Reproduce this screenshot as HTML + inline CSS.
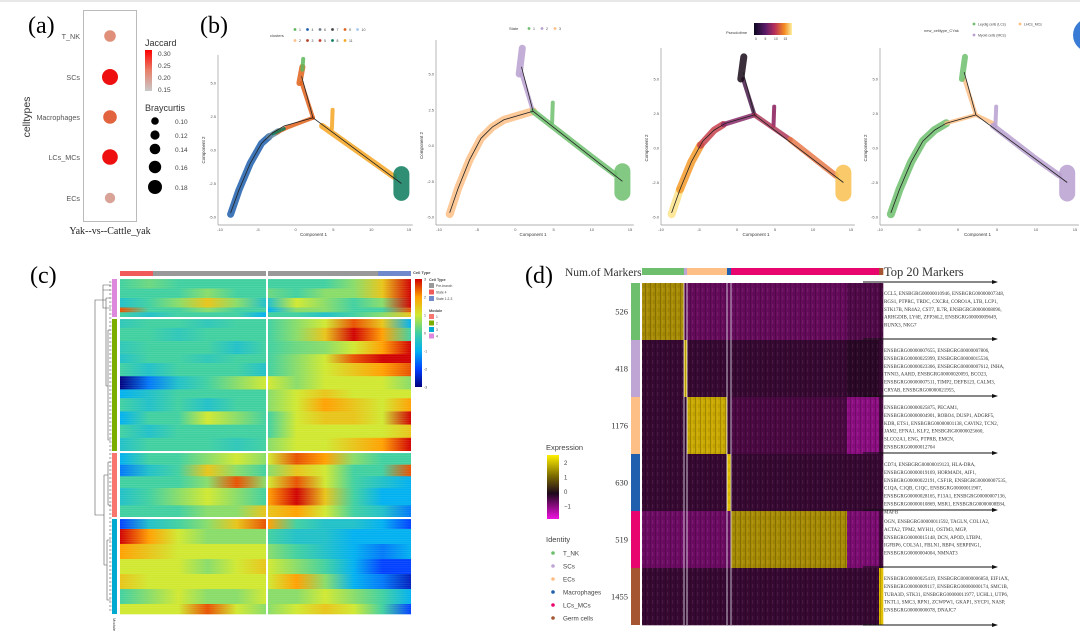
<!DOCTYPE html>
<html><head><meta charset="utf-8"><style>
html,body{margin:0;padding:0;background:#fff;}
svg{display:block;font-family:"Liberation Sans",sans-serif;}
.serif{font-family:"Liberation Serif",serif;}
</style></head><body>
<svg id="fig" width="1080" height="636" viewBox="0 0 1080 636">
<rect x="0" y="0" width="1080" height="636" fill="#fff"/>
<rect x="0" y="0" width="1080" height="2" fill="#e8e8e8"/>
<circle cx="1090" cy="35" r="17" fill="#3a7bd5"/>
<!-- Panel a -->
<g>
<text x="28" y="33" class="serif" font-size="24">(a)</text>
<rect x="83.5" y="10.5" width="53" height="211" fill="#fff" stroke="#bbb"/>
<g font-size="7.2" fill="#555" text-anchor="end">
<text x="80" y="39">T_NK</text>
<text x="80" y="80">SCs</text>
<text x="80" y="120">Macrophages</text>
<text x="80" y="160">LCs_MCs</text>
<text x="80" y="201">ECs</text>
</g>
<text transform="translate(30,117) rotate(-90)" font-size="10.5" text-anchor="middle" fill="#333">celltypes</text>
<circle cx="110" cy="36" r="5.8" fill="#e0907a"/>
<circle cx="110" cy="77" r="8" fill="#ee1010"/>
<circle cx="110" cy="117" r="6.8" fill="#e2643e"/>
<circle cx="110" cy="157" r="7.8" fill="#ee1010"/>
<circle cx="110" cy="198" r="5.2" fill="#d9a397"/>
<text x="110" y="234" class="serif" font-size="10" text-anchor="middle" fill="#222">Yak--vs--Cattle_yak</text>
<text x="145" y="46" font-size="9" fill="#333">Jaccard</text>
<defs><linearGradient id="jacg" x1="0" y1="0" x2="0" y2="1"><stop offset="0" stop-color="#f00"/><stop offset="0.5" stop-color="#e8806a"/><stop offset="1" stop-color="#c8c8c8"/></linearGradient></defs>
<rect x="145" y="50" width="7" height="41" fill="url(#jacg)"/>
<g font-size="6.5" fill="#444">
<text x="158" y="56">0.30</text>
<text x="158" y="68">0.25</text>
<text x="158" y="80">0.20</text>
<text x="158" y="92">0.15</text>
</g>
<text x="145" y="111" font-size="9" fill="#333">Braycurtis</text>
<circle cx="155" cy="121" r="3.8" fill="#000"/>
<circle cx="155" cy="135" r="4.6" fill="#000"/>
<circle cx="155" cy="149" r="5.3" fill="#000"/>
<circle cx="155" cy="167" r="6.2" fill="#000"/>
<circle cx="155" cy="187" r="7" fill="#000"/>
<g font-size="6.5" fill="#444">
<text x="175" y="124">0.10</text>
<text x="175" y="138">0.12</text>
<text x="175" y="152">0.14</text>
<text x="175" y="170">0.16</text>
<text x="175" y="190">0.18</text>
</g>
</g>
<text x="200" y="33" class="serif" font-size="24">(b)</text>
<g id="panelB"></g>
<text x="30" y="283" class="serif" font-size="24">(c)</text>
<g id="panelC"></g>
<text x="525" y="283" class="serif" font-size="24">(d)</text>
<text x="565" y="276" class="serif" font-size="11.5" fill="#333">Num.of Markers</text>
<text x="884" y="276" class="serif" font-size="12.5" fill="#333">Top 20 Markers</text>
<g id="panelD"></g>
</svg>
<script>
// ---------- data: panel b ----------
const trajLeft = [[-8.6,-4.7],[-7.5,-3],[-6,-1],[-4.5,0.5],[-3,1.3],[-1.5,1.8],[2.3,2.4]];
const trajTop = [[2.3,2.4],[0.8,5.5]];
const trajRight = [[2.3,2.4],[14,-2.5]];
const xTicks = [-10,-5,0,5,10,15];
const yTicks = [5,2.5,0,-2.5,-5];
const p1Segments = [
 {c:'#1f5fad',w:7,pts:[[-8.6,-4.8],[-7.5,-3],[-6,-1],[-4.5,0.5],[-3.5,1.0]]},
 {c:'#6a8aa0',w:6,pts:[[-3.5,1.0],[-2.3,1.4]]},
 {c:'#e0621a',w:4,pts:[[-2.5,1.3],[-1,1.7],[2.3,2.4]]},
 {c:'#0a7a5a',w:3,pts:[[-3,1.2],[-1.5,1.6]]},
 {c:'#e0621a',w:4,pts:[[2.3,2.4],[0.8,5.0]]},
 {c:'#e0621a',w:6,pts:[[0.5,5.0],[0.9,6.2]]},
 {c:'#5cb85c',w:4,pts:[[0.9,6.0],[1.0,6.8]]},
 {c:'#f5a623',w:4,pts:[[4.8,1.6],[4.9,3.0]]},
 {c:'#f5a623',w:6,pts:[[3.5,1.8],[10,-0.8],[13,-2.0]]},
 {c:'#0a7a5a',w:16,pts:[[14,-1.8],[14,-3.2]]}
];
const p2Segments = [
 {c:'#fdbf86',w:8,pts:[[-8.6,-4.8],[-7.5,-3],[-6,-1],[-4.5,0.5],[-3,1.3],[-1.5,1.8],[2.3,2.4]]},
 {c:'#b9a0d0',w:4,pts:[[2.3,2.4],[0.8,5.0]]},
 {c:'#b9a0d0',w:7,pts:[[0.5,5.0],[0.9,6.8]]},
 {c:'#6dbf6d',w:6,pts:[[2.3,2.4],[10,-0.8],[13,-2.0]]},
 {c:'#6dbf6d',w:4,pts:[[4.8,1.6],[4.9,3.0]]},
 {c:'#6dbf6d',w:16,pts:[[14,-1.8],[14,-3.3]]}
];
const p3Segments = [
 {c:'#fde38a',w:8,pts:[[-8.6,-4.8],[-7.5,-3]]},
 {c:'#f59a2a',w:8,pts:[[-7.5,-3],[-6,-1],[-4.8,0.2]]},
 {c:'#c8404a',w:7,pts:[[-4.8,0.2],[-3,1.3],[-1.8,1.7]]},
 {c:'#8a2a6a',w:5,pts:[[-1.8,1.7],[2.3,2.4]]},
 {c:'#4a1a4a',w:4,pts:[[2.3,2.4],[0.8,5.0]]},
 {c:'#1a0a1a',w:7,pts:[[0.5,5.0],[0.9,6.6]]},
 {c:'#8a1a5a',w:4,pts:[[4.8,1.6],[4.9,3.0]]},
 {c:'#b03a5a',w:5,pts:[[2.3,2.4],[7,0.6]]},
 {c:'#e87a4a',w:6,pts:[[7,0.6],[13,-2.0]]},
 {c:'#f8c050',w:16,pts:[[14,-1.8],[14,-3.3]]}
];
const p4Segments = [
 {c:'#6dbf6d',w:8,pts:[[-8.6,-4.8],[-7.5,-3],[-6,-1],[-4.5,0.5],[-3,1.3],[-1.5,1.8]]},
 {c:'#fdbf86',w:4,pts:[[-1.5,1.8],[2.3,2.4],[4.5,1.8]]},
 {c:'#fdbf86',w:4,pts:[[2.3,2.4],[0.8,5.0]]},
 {c:'#6dbf6d',w:6,pts:[[0.5,5.0],[0.9,6.6]]},
 {c:'#b9a0d0',w:4,pts:[[4.8,1.6],[4.9,3.0]]},
 {c:'#b9a0d0',w:6,pts:[[4.5,1.6],[10,-0.8],[13,-2.0]]},
 {c:'#b9a0d0',w:16,pts:[[14,-1.8],[14,-3.3]]}
];
// ---------- data: panel c ----------
const cModules = ['4','2','1','3'];
const cModuleColors = ['#dd88dd','#7cae00','#f8766d','#00a9d0'];
const cModuleY = [[279,317],[319,451],[453,517],[519,614]];
const cBands4 = [
 [2,[0,0.3,0,0,0,0],[0,0,0,0.5,1.5,3]],
 [2,[0,0,0,0.5,0,0],[0.3,0,0.5,0.5,1.5,3]],
 [2,[-0.5,0,0.5,1.5,0.5,-0.5],[-0.5,1,0.5,0,0.5,3]],
 [1,[2.5,0,0,0.5,0,0],[-1,0.5,0.5,0,0,2.5]],
 [1,[0,-0.5,0,0,0,-1],[0,0,-0.5,0,0.5,1.5]]];
const cBands2 = [
 [2,[-0.3,0,0,-0.3,0,0],[0,0.5,1,2.5,1.5,-1]],
 [3,[0,0,-0.3,0,0,0],[0,0.5,1.5,3,2,0]],
 [3,[-0.3,0,0,0,-0.5,0],[0,0.3,0.5,1,2,3]],
 [2,[-0.5,0,0,-0.3,0,0],[0,0.5,1,2.5,3,3]],
 [3,[0,-0.5,0,0,0,-0.5],[0,0.5,1,1.5,2,2.5]],
 [3,[-3,-1.5,-0.5,0,0.5,1],[1,0.5,1,1,1,0.5]],
 [2,[-1,-0.5,0,0,0,0],[0.5,1,1.5,1,1,1]],
 [3,[0,-0.5,0,-0.5,0,0],[0.5,1,2,1.5,1,2]],
 [3,[-1,0,0,1,0.5,0],[0,1,1.5,1.5,1,3]],
 [3,[0,-0.5,0,0,0,0],[0,1,1,1,1,1.5]],
 [3,[-0.5,0,0,0,-0.3,0],[0.5,1,1,1.5,2,3]]];
const cBands1 = [
 [2,[-1,0,0,0.5,1,0.5],[1,2.5,2,0.5,0,0]],
 [2,[-1.5,-0.5,0,1.5,0.5,0],[0.5,1.5,1,0,0,2.5]],
 [2,[0,0,0,0.5,2.5,0.5],[1,2.5,1,0,-0.5,-1]],
 [3,[-0.5,0,0.5,1,0.5,0],[2,3,1.5,0,-1,-1]],
 [2,[0,0,0,0.5,0.5,1.5],[1.5,2,1,0,-0.5,-1.5]]];
const cBands3 = [
 [2,[-2,-0.5,0,0.5,1.5,2.5],[2,0,-0.5,-0.5,-1,-2]],
 [3,[3,2,1,0.5,0.5,0.5],[0,-0.5,-0.5,-1,-1,-1]],
 [3,[2,1.5,1,1,1,1],[0.5,0,-0.5,-1,-1.5,-1]],
 [3,[1,1,1,0.5,1,1.5],[1,0.5,0,-1,-2,-2]],
 [3,[1.5,1,1,1,1,1],[1,2,0.5,-1,-1.5,-2.5]],
 [3,[0,0.5,1,0.5,0.5,1],[0.5,0.5,1,0.5,0,-1]],
 [2,[1,1,1,2.5,1,0.5],[0.5,1,1.5,1,0,-2]]];
const cTicks = [3,2,1,0,-1,-2,-3];
// ---------- data: panel d ----------
const dIdentities = ['T_NK','SCs','ECs','Macrophages','LCs_MCs','Germ cells'];
const dColors = ['#6dbf6d','#bfa5d4','#fdbf86','#1f5fad','#e8066e','#a65533'];
const dMarkerCounts = [526,418,1176,630,519,1455];
const dColCells = [42,3,40,4,116,32,4];
const dColIdentity = [0,1,2,3,4,4,5];
const dExpr = [
 [1.5,-0.5,-0.55,-0.55,-0.55,-0.4,-0.3],
 [-0.2,2.0,-0.2,-0.2,-0.2,-0.1,-0.2],
 [-0.2,-0.2,1.8,-0.2,-0.35,-0.8,-0.3],
 [-0.2,-0.2,-0.2,2.0,-0.2,-0.2,-0.2],
 [-0.6,-0.55,-0.6,-0.55,1.5,-0.7,-0.3],
 [-0.2,-0.2,-0.2,-0.2,-0.2,-0.2,2.0]];
const dLegendTicks = [2,1,0,-1];
const dMarkerText = [
 ["CCL5, ENSBGRG00000010946, ENSBGRG00000007348,","RGS1, PTPRC, TRDC, CXCR4, CORO1A, LTB, LCP1,","STK17B, NR4A2, CST7, IL7R, ENSBGRG00000008096,","ARHGDIB, LY6E, ZFP36L2, ENSBGRG00000009649,","RUNX3, NKG7"],
 ["ENSBGRG00000007655, ENSBGRG00000007806,","ENSBGRG00000025999, ENSBGRG00000015536,","ENSBGRG00000023306, ENSBGRG00000007612, INHA,","TNNI3, AARD, ENSBGRG00000020093, BCO23,","ENSBGRG00000007511, TIMP2, DEFB123, CALM3,","CRYAB, ENSBGRG00000021955,"],
 ["ENSBGRG00000025875, PECAM1,","ENSBGRG00000004901, ROBO4, DUSP1, ADGRF5,","KDR, ETS1, ENSBGRG00000001138, CAVIN2, TCN2,","JAM2, EFNA1, KLF2, ENSBGRG00000025660,","SLCO2A1, ENG, PTPRB, EMCN,","ENSBGRG00000012704"],
 ["CD74, ENSBGRG00000019123, HLA-DRA,","ENSBGRG00000019169, HORMAD1, AIF1,","ENSBGRG00000022191, CSF1R, ENSBGRG00000007535,","C1QA, C1QB, C1QC, ENSBGRG00000011907,","ENSBGRG00000028165, F13A1, ENSBGRG00000007136,","ENSBGRG00000010869, MSR1, ENSBGRG00000008E84,","MAFB"],
 ["OGN, ENSBGRG00000011592, TAGLN, COL1A2,","ACTA2, TPM2, MYH11, OSTM3, MGP,","ENSBGRG00000015148, DCN, APOD, LTBP4,","IGFBP6, COL3A1, FBLN1, RBP4, SERPING1,","ENSBGRG00000004004, NMNAT3"],
 ["ENSBGRG00000025419, ENSBGRG00000006850, EIF1AX,","ENSBGRG00000009117, ENSBGRG00000000174, SMC1B,","TUBA3D, STK31, ENSBGRG00000011977, UCHL1, UTP6,","TKTL1, SMC3, RPN1, ZCWPW1, GKAP1, SYCP1, NASP,","ENSBGRG00000000078, DNAJC7"]];

const NS='http://www.w3.org/2000/svg';
function E(tag,attrs,parent){const e=document.createElementNS(NS,tag);for(const k in attrs)e.setAttribute(k,attrs[k]);parent.appendChild(e);return e;}
const svg=document.getElementById('fig');
const defs=E('defs',{},svg);

// ================= Panel B =================
const B=document.getElementById('panelB');
const plots=[
 {x0:220,x1:409,y5:83,ym5:217,ax:218,top:55,segs:p1Segments,name:'clusters'},
 {x0:439,x1:630,y5:74,ym5:217,ax:436,top:40,segs:p2Segments,name:'state'},
 {x0:661,x1:851,y5:79,ym5:217,ax:661,top:48,segs:p3Segments,name:'pseudotime'},
 {x0:880,x1:1075,y5:79,ym5:217,ax:880,top:48,segs:p4Segments,name:'celltype'}];
function px(p,x){return p.x0+(x+10)*(p.x1-p.x0)/25;}
function py(p,y){return p.y5+(5-y)*(p.ym5-p.y5)/10;}
function ptsStr(p,arr){return arr.map(q=>px(p,q[0]).toFixed(1)+','+py(p,q[1]).toFixed(1)).join(' ');}
plots.forEach((p,i)=>{
 const g=E('g',{},B);
 
 
 const ya=E('line',{x1:p.ax,y1:p.top,x2:p.ax,y2:225,stroke:'#999','stroke-width':0.7},g);
 
 
 const xa=E('line',{x1:p.ax,y1:225,x2:px(p,15.5),y2:225,stroke:'#999','stroke-width':0.7},g);
 
 
 xTicks.forEach(t=>{
  const tx=E('text',{x:px(p,t),y:231,'font-size':4,'text-anchor':'middle',fill:'#555'},g);
  tx.textContent=t;
  
  
 });
 yTicks.forEach(t=>{
  const ty=E('text',{x:p.ax-2,y:py(p,t)+1.5,'font-size':4,'text-anchor':'end',fill:'#555'},g);
  ty.textContent=t.toFixed(1);
  
  
 });
 const xl=E('text',{x:(p.ax+px(p,15))/2,y:236,'font-size':4.5,'text-anchor':'middle',fill:'#333'},g);
 xl.textContent='Component 1';
 
 
 const yl=E('text',{transform:`translate(${p.ax-13},${py(p,0)}) rotate(-90)`,'font-size':4.5,'text-anchor':'middle',fill:'#333'},g);
 yl.textContent='Component 2';
 
 
 p.segs.forEach((s,j)=>{
  const l=E('polyline',{points:ptsStr(p,s.pts),fill:'none',stroke:s.c,'stroke-width':s.w,'stroke-linecap':'round','stroke-linejoin':'round',opacity:0.85},g);
  
  
 });
 [trajLeft,trajTop,trajRight].forEach((tr,k)=>{
  const l=E('polyline',{points:ptsStr(p,tr),fill:'none',stroke:'#222','stroke-width':0.8},g);
  
  
 });
});
function txt(x,y,s,size,parent,name,extra){const t=E('text',Object.assign({x:x,y:y,'font-size':size,fill:'#444'},extra||{}),parent);t.textContent=s;return t;}
const lg1=E('g',{},B);


const c1Labels=[['1','#5cb85c'],['4','#1f5fad'],['6','#6a7a8a'],['7','#444'],['9','#e0621a'],['10','#a6c8f0']];
const c2Labels=[['2','#fdbf86'],['3','#b0402a'],['5','#c0392b'],['8','#0a7a5a'],['11','#f5a623']];
let t0=txt(270,37,'clusters',4,lg1);


c1Labels.forEach((c,i)=>{const cc=E('circle',{cx:295+i*12.5,cy:29.5,r:1.4,fill:c[1]},lg1);
 
 
 const t=txt(299+i*12.5,31,c[0],3.5,lg1);
 
 });
c2Labels.forEach((c,i)=>{const cc=E('circle',{cx:295+i*12.5,cy:40.5,r:1.4,fill:c[1]},lg1);
 
 
 const t=txt(299+i*12.5,42,c[0],3.5,lg1);
 
 });
const lg2=E('g',{},B);


t0=txt(509,30,'State',4,lg2);


[['1','#6dbf6d'],['2','#b9a0d0'],['3','#fdbf86']].forEach((c,i)=>{const cc=E('circle',{cx:529+i*13,cy:28.5,r:1.4,fill:c[1]},lg2);
 
 
 const t=txt(533+i*13,30,c[0],3.5,lg2);
 
 });
const lg3=E('g',{},B);


const pg=E('linearGradient',{id:'ptg',x1:0,y1:0,x2:1,y2:0},defs);
[['0','#0d0820'],['0.3','#5a1a6a'],['0.55','#b8305a'],['0.8','#f48a20'],['1','#fdf0a0']].forEach(s=>E('stop',{offset:s[0],'stop-color':s[1]},pg));
t0=txt(726,34,'Pseudotime',4,lg3);


const pr=E('rect',{x:754,y:23,width:38,height:12,fill:'url(#ptg)'},lg3);


['0','5','10','15'].forEach((s,i)=>{const t=txt(755+i*9.5,40,s,3.3,lg3);
 
 });
const lg4=E('g',{},B);


t0=txt(924,32,'new_celltype_CYak',4,lg4);


[[974,25,'Leydig cells (LCs)','#6dbf6d'],[1020,25,'LHCs_MCs','#fdbf86'],[974,36,'Myoid cells (MCs)','#b9a0d0']].forEach(c=>{
 const cc=E('circle',{cx:c[0],cy:c[1]-1,r:1.4,fill:c[3]},lg4);
 
 
 const t=txt(c[0]+4,c[1]+0.5,c[2],3.5,lg4);
 
 });

// ================= Panel C =================
const C=document.getElementById('panelC');
const jetStops=[[-3,[0,0,127]],[-2,[0,64,255]],[-1,[0,176,240]],[0,[64,208,160]],[1,[208,232,48]],[2,[255,160,0]],[3,[208,0,0]]];
function jet(v){v=Math.max(-3,Math.min(3,v));for(let i=0;i<jetStops.length-1;i++){const a=jetStops[i],b=jetStops[i+1];if(v<=b[0]){const t=(v-a[0])/(b[0]-a[0]);const c=a[1].map((x,k)=>Math.round(x+(b[1][k]-x)*t));return `rgb(${c[0]},${c[1]},${c[2]})`;}}return 'rgb(208,0,0)';}
const halves=[[120,266],[268,411]];
const allBands=[cBands4,cBands2,cBands1,cBands3];
let gid=0;
allBands.forEach((bands,mi)=>{
 const [y0,y1]=cModuleY[mi];
 const total=bands.reduce((s,b)=>s+b[0],0);
 let y=y0;
 bands.forEach(b=>{
  const h=(y1-y0)*b[0]/total;
  [b[1],b[2]].forEach((vals,hi)=>{
   const id='cg'+(gid++);
   const lgr=E('linearGradient',{id:id,x1:0,y1:0,x2:1,y2:0},defs);
   vals.forEach((v,k)=>E('stop',{offset:k/(vals.length-1),'stop-color':jet(v)},lgr));
   const r=E('rect',{x:halves[hi][0],y:y.toFixed(2),width:halves[hi][1]-halves[hi][0],height:(h+0.3).toFixed(2),fill:`url(#${id})`},C);
   
   
  });
  y+=h;
 });
 const mb=E('rect',{x:112,y:y0,width:5,height:y1-y0,fill:cModuleColors[mi]},C);
 
 
});
// horizontal fine-row texture
const cpat=E('pattern',{id:'rowlines',width:4,height:2.2,patternUnits:'userSpaceOnUse'},defs);
E('rect',{x:0,y:0,width:4,height:0.6,fill:'#fff',opacity:0.12},cpat);
const ctex=E('rect',{x:120,y:279,width:291,height:335,fill:'url(#rowlines)'},C);


[[120,153,'#f05a5a'],[153,266,'#999'],[268,378,'#999'],[378,411,'#7088cc']].forEach((s,i)=>{
 const r=E('rect',{x:s[0],y:271,width:s[1]-s[0],height:5,fill:s[2]},C);
 
 
});
const dg=E('g',{stroke:'#555','stroke-width':0.6,fill:'none'},C);


E('path',{d:'M106,300 H95 V515 H104 M106,300 V298 M106,300 V386 M106,298 H111 M106,386 H108 M108,330 V440 H111 M108,330 H111 M104,475 V565 M104,475 H108 M104,565 H107 M108,462 V505 H111 M108,462 H111 M107,540 V600 H111 M107,540 H111 M103,290 H111 M103,285 V308 H111 M103,285 H111'},dg);
for(let yy=282;yy<612;yy+=4){E('line',{x1:109,y1:yy,x2:111.5,y2:yy},dg);}
const ml=E('text',{transform:'translate(113,618) rotate(90)','font-size':4,fill:'#444'},C);
ml.textContent='Module';


const cg=E('linearGradient',{id:'cbar',x1:0,y1:0,x2:0,y2:1},defs);
cTicks.forEach((v,k)=>E('stop',{offset:k/(cTicks.length-1),'stop-color':jet(v)},cg));
const cbr=E('rect',{x:415,y:279,width:7,height:108,fill:'url(#cbar)'},C);


cTicks.forEach((v,k)=>{const t=txt(424,279+k*18+1.5,String(v),3.5,C);
 
 });
let ct=txt(413,274,'Cell Type',4,C,null,{'font-weight':'bold'});


ct=txt(429,281,'Cell Type',3.8,C,null,{'font-weight':'bold'});


[['Pre-branch','#999'],['State 4','#f05a5a'],['State 1-2-3','#7088cc']].forEach((c,i)=>{
 const r=E('rect',{x:429,y:283+i*6.5,width:5,height:5,fill:c[1]},C);
 
 
 const t=txt(436,287+i*6.5,c[0],3.3,C);
 
 });
ct=txt(429,312,'Module',3.8,C,null,{'font-weight':'bold'});


['#f8766d','#7cae00','#00a9d0','#dd88dd'].forEach((c,i)=>{
 const r=E('rect',{x:429,y:314+i*6.5,width:5,height:5,fill:c},C);
 
 
 const t=txt(436,318+i*6.5,String(i+1),3.3,C);
 
 });
[318,452,518].forEach(y=>{const l=E('rect',{x:119,y:y-1,width:293,height:2,fill:'#fff'},C);
 
 });
const vs=E('rect',{x:266,y:270,width:2,height:345,fill:'#fff'},C);



// ================= Panel D =================
const D=document.getElementById('panelD');
const hx0=642,hx1=883,hy0=283,hy1=625;
const totalCells=dColCells.reduce((a,b)=>a+b,0);
const colX=[];let acc=0;dColCells.forEach(c=>{colX.push(hx0+(hx1-hx0)*acc/totalCells);acc+=c;});colX.push(hx1);
const rowH=(hy1-hy0)/dIdentities.length;
function exprColor(v){const st=[[-1.5,[230,0,230]],[-1,[170,16,160]],[-0.5,[95,10,85]],[0,[30,8,28]],[1,[110,90,10]],[2,[225,190,0]],[2.5,[255,235,30]]];
 v=Math.max(-1.5,Math.min(2.5,v));for(let i=0;i<st.length-1;i++){const a=st[i],b=st[i+1];if(v<=b[0]){const t=(v-a[0])/(b[0]-a[0]);const c=a[1].map((x,k)=>Math.round(x+(b[1][k]-x)*t));return `rgb(${c[0]},${c[1]},${c[2]})`;}}return 'rgb(255,235,30)';}
const pat=E('pattern',{id:'stripes',width:5,height:8,patternUnits:'userSpaceOnUse'},defs);
E('rect',{x:0,y:0,width:1,height:8,fill:'#000',opacity:0.2},pat);
E('rect',{x:2,y:0,width:1,height:4,fill:'#fff',opacity:0.07},pat);
E('rect',{x:3.5,y:4,width:1,height:4,fill:'#000',opacity:0.12},pat);
dExpr.forEach((row,ri)=>{
 row.forEach((v,ci)=>{
  const r=E('rect',{x:colX[ci].toFixed(2),y:(hy0+ri*rowH).toFixed(2),width:(colX[ci+1]-colX[ci]+0.3).toFixed(2),height:(rowH+0.3).toFixed(2),fill:exprColor(v)},D);
  
  
 });
 const lb=E('rect',{x:631,y:hy0+ri*rowH,width:9,height:rowH,fill:dColors[ri]},D);
 
 
 const t=E('text',{x:628,y:hy0+ri*rowH+rowH/2+3,'font-size':8.5,'text-anchor':'end',fill:'#333',class:'serif'},D);
 t.textContent=dMarkerCounts[ri];
 
 
 const ay=hy0+ri*rowH-1;
 const ar=E('line',{x1:863,y1:ay,x2:994,y2:ay,stroke:'#111','stroke-width':1},D);
 
 
 const ah=E('polygon',{points:`${998},${ay} ${992},${ay-2} ${992},${ay+2}`,fill:'#111'},D);
 
 
 dMarkerText[ri].forEach((line,li)=>{
  const tl=E('text',{x:884,y:hy0+ri*rowH+12+li*7.9,'font-size':5,fill:'#333',class:'serif'},D);
  tl.textContent=line;
  
  
 });
});
const lastA=E('line',{x1:863,y1:hy1,x2:994,y2:hy1,stroke:'#111','stroke-width':1},D);


const lastH=E('polygon',{points:`998,${hy1} 992,${hy1-2} 992,${hy1+2}`,fill:'#111'},D);


const tex=E('rect',{x:hx0,y:hy0,width:hx1-hx0,height:hy1-hy0,fill:'url(#stripes)'},D);


dColCells.forEach((c,ci)=>{
 const r=E('rect',{x:colX[ci].toFixed(2),y:268,width:(colX[ci+1]-colX[ci]+0.3).toFixed(2),height:7,fill:dColors[dColIdentity[ci]]},D);
 
 
});
[1,2,3,4].forEach(ci=>{const l=E('line',{x1:colX[ci],y1:hy0,x2:colX[ci],y2:hy1,stroke:'#e8e8f0','stroke-width':0.8},D);
 
 });
const eg=E('linearGradient',{id:'exg',x1:0,y1:0,x2:0,y2:1},defs);
[[0,'#fff000'],[0.33,'#7a6a00'],[0.6,'#1e081c'],[0.8,'#8a0a80'],[1,'#f010e0']].forEach(s=>E('stop',{offset:s[0],'stop-color':s[1]},eg));
let dt=txt(546,450,'Expression',7.5,D);


const ebar=E('rect',{x:547,y:455,width:12,height:64,fill:'url(#exg)'},D);


dLegendTicks.forEach((v,k)=>{const t=txt(564,465+k*14.5,v<0?'\u2212'+(-v):String(v),6,D);
 
 });
dt=txt(546,542,'Identity',7.5,D);


dIdentities.forEach((n,i)=>{
 const cc=E('circle',{cx:553,cy:553+i*13,r:1.8,fill:dColors[i]},D);
 
 
 const t=txt(563,555.5+i*13,n,6.3,D);
 
 
});
</script>
</body></html>
